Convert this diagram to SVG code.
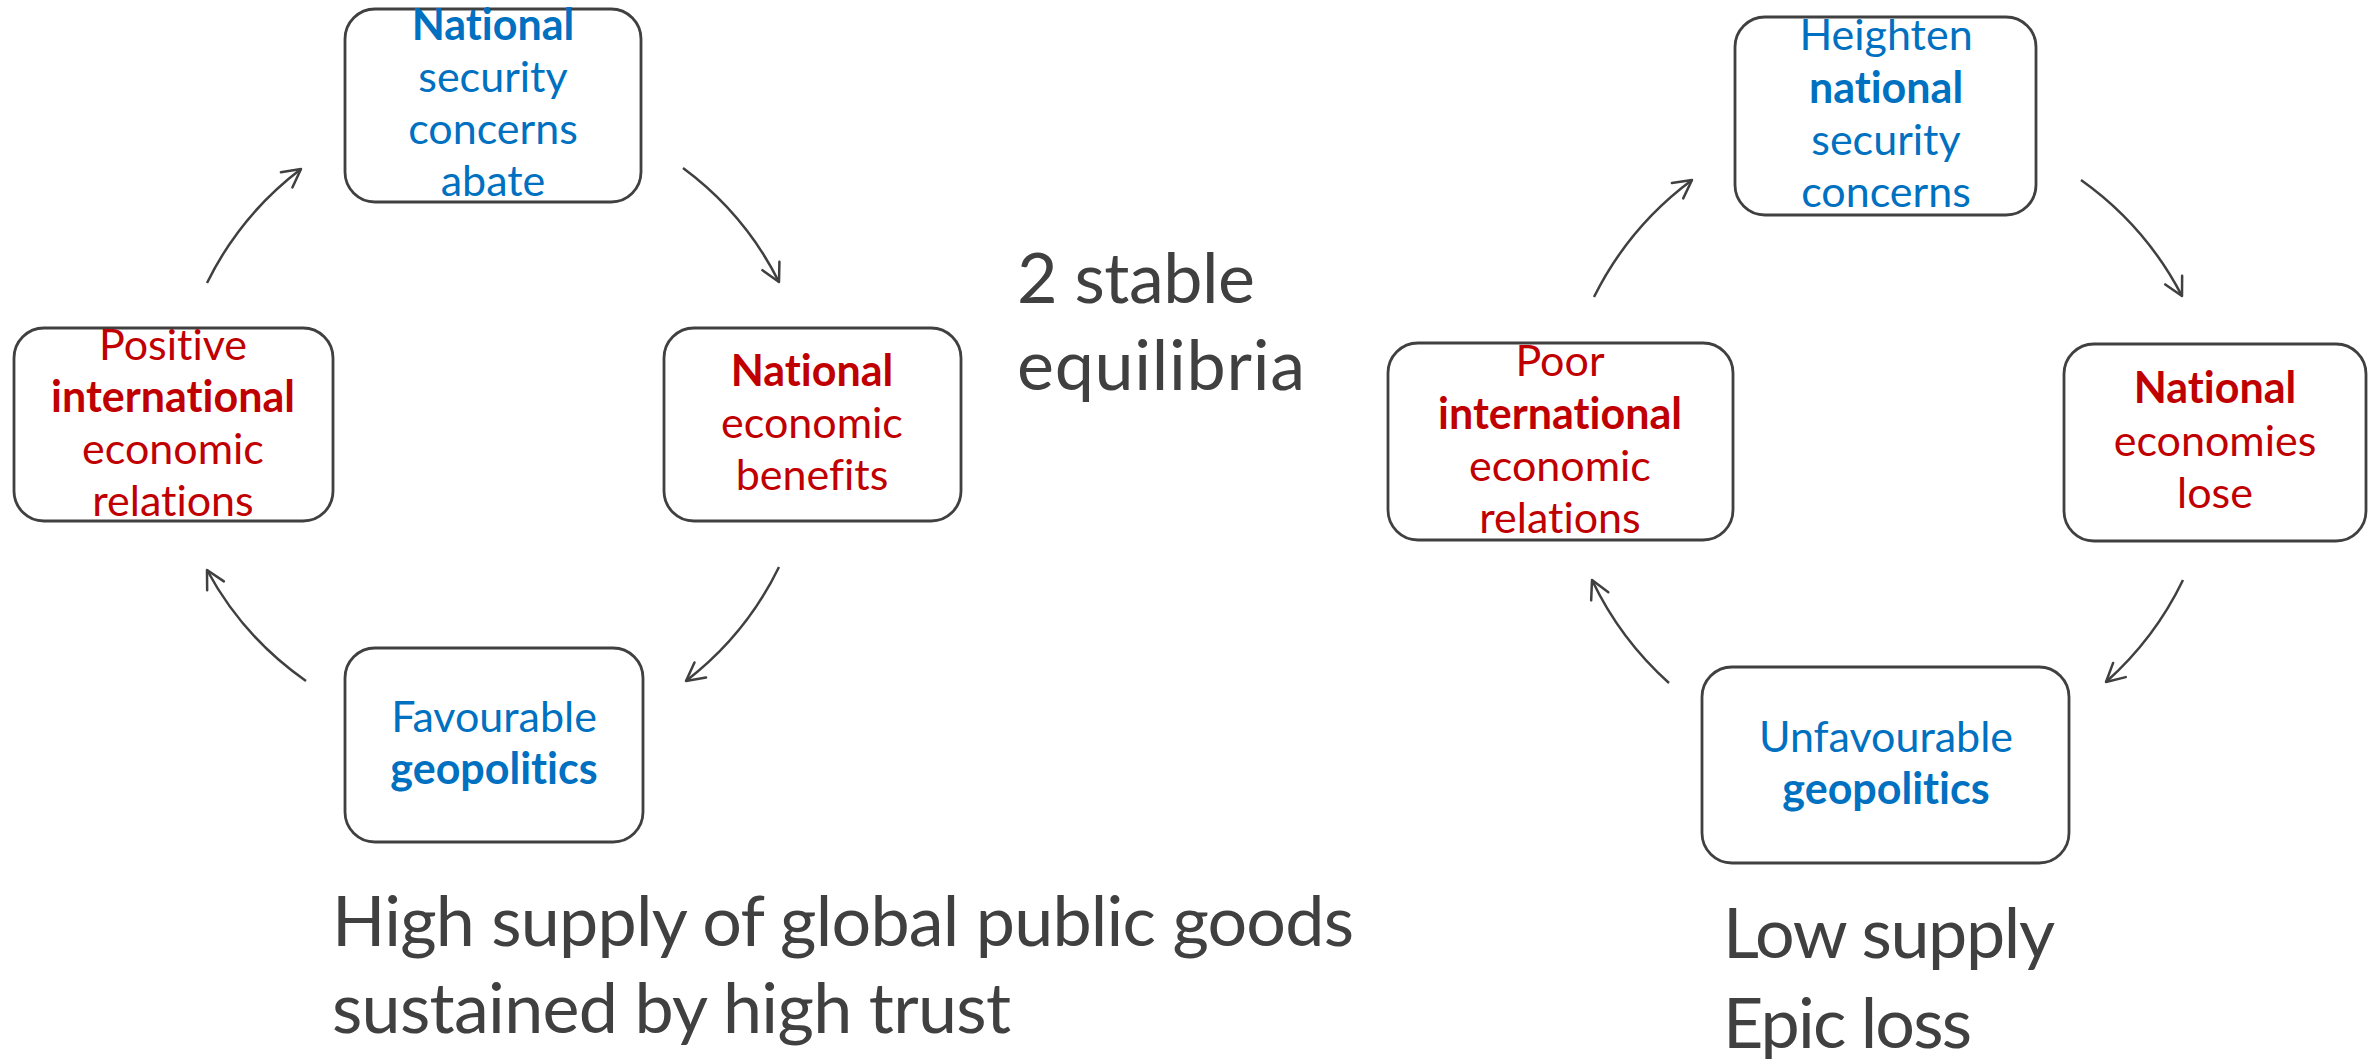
<svg xmlns="http://www.w3.org/2000/svg" width="2376" height="1059" viewBox="0 0 2376 1059">
<defs>
<style>
.box{fill:#fff;stroke:#404040;stroke-width:2.8}
.t{font-family:Lato,"Liberation Sans",sans-serif;font-size:43px;text-anchor:middle;font-variant-ligatures:none}
.blue{fill:#0070C0}
.red{fill:#C00000}
.b{font-weight:bold}
.big{font-family:Lato,"Liberation Sans",sans-serif;font-size:70px;fill:#404040;font-variant-ligatures:none}
.arc{fill:none;stroke:#404040;stroke-width:2.5;marker-end:url(#ah)}
</style>
<marker id="ah" markerUnits="userSpaceOnUse" viewBox="-24 -14 28 28" refX="0" refY="0" markerWidth="28" markerHeight="28" orient="auto">
<path d="M-18,-9.5 L0,0 L-18,9.5" fill="none" stroke="#404040" stroke-width="2.5" stroke-linecap="round" stroke-linejoin="round"/>
</marker>
</defs>
<rect width="2376" height="1059" fill="#fff"/>

<g id="connectors">
<path class="arc" d="M683,168 A320,320 0 0,1 779,282"/>
<path class="arc" d="M779,567 A320,320 0 0,1 686,681"/>
<path class="arc" d="M306,681 A320,320 0 0,1 207,570"/>
<path class="arc" d="M207,283 A320,320 0 0,1 301,169"/>
<path class="arc" d="M2081,180 A327,327 0 0,1 2182,296"/>
<path class="arc" d="M2183,580 A327,327 0 0,1 2106,682"/>
<path class="arc" d="M1669,683 A327,327 0 0,1 1592,580"/>
<path class="arc" d="M1594,297 A327,327 0 0,1 1692,180"/>
</g>

<g id="n-security-abate">
<rect class="box" x="345" y="9" width="296" height="193" rx="30"/>
<text class="t blue"><tspan class="b" x="493" y="40">National</tspan><tspan x="493" y="92">security</tspan><tspan x="493" y="144">concerns</tspan><tspan x="493" y="196">abate</tspan></text>
</g>
<g id="n-positive-relations">
<rect class="box" x="14" y="328" width="319" height="193" rx="30"/>
<text class="t red"><tspan x="173" y="360">Positive</tspan><tspan class="b" x="173" y="412">international</tspan><tspan x="173" y="464">economic</tspan><tspan x="173" y="516">relations</tspan></text>
</g>
<g id="n-economic-benefits">
<rect class="box" x="664" y="328" width="297" height="193" rx="30"/>
<text class="t red"><tspan class="b" x="812" y="386">National</tspan><tspan x="812" y="438">economic</tspan><tspan x="812" y="490">benefits</tspan></text>
</g>
<g id="n-favourable">
<rect class="box" x="345" y="648" width="298" height="194" rx="30"/>
<text class="t blue"><tspan x="494" y="732">Favourable</tspan><tspan class="b" x="494" y="784">geopolitics</tspan></text>
</g>

<g id="n-heighten">
<rect class="box" x="1735" y="17" width="301" height="198" rx="30"/>
<text class="t blue"><tspan x="1886" y="50">Heighten</tspan><tspan class="b" x="1886" y="103">national</tspan><tspan x="1886" y="155">security</tspan><tspan x="1886" y="207">concerns</tspan></text>
</g>
<g id="n-poor-relations">
<rect class="box" x="1388" y="343" width="345" height="197" rx="30"/>
<text class="t red"><tspan x="1560" y="376">Poor</tspan><tspan class="b" x="1560" y="429">international</tspan><tspan x="1560" y="481">economic</tspan><tspan x="1560" y="533">relations</tspan></text>
</g>
<g id="n-economies-lose">
<rect class="box" x="2064" y="344" width="302" height="197" rx="30"/>
<text class="t red"><tspan class="b" x="2215" y="403">National</tspan><tspan x="2215" y="456">economies</tspan><tspan x="2215" y="508">lose</tspan></text>
</g>
<g id="n-unfavourable">
<rect class="box" x="1702" y="667" width="367" height="196" rx="30"/>
<text class="t blue"><tspan x="1886" y="752">Unfavourable</tspan><tspan class="b" x="1886" y="804">geopolitics</tspan></text>
</g>

<g id="captions">
<text class="big" x="1017" y="303" textLength="238">2 stable</text>
<text class="big" x="1017" y="390" textLength="288">equilibria</text>
<text class="big" x="332" y="946" textLength="1022">High supply of global public goods</text>
<text class="big" x="332" y="1033" textLength="679">sustained by high trust</text>
<text class="big" x="1723" y="958" textLength="332">Low supply</text>
<text class="big" x="1723" y="1048" textLength="249">Epic loss</text>
</g>
</svg>
